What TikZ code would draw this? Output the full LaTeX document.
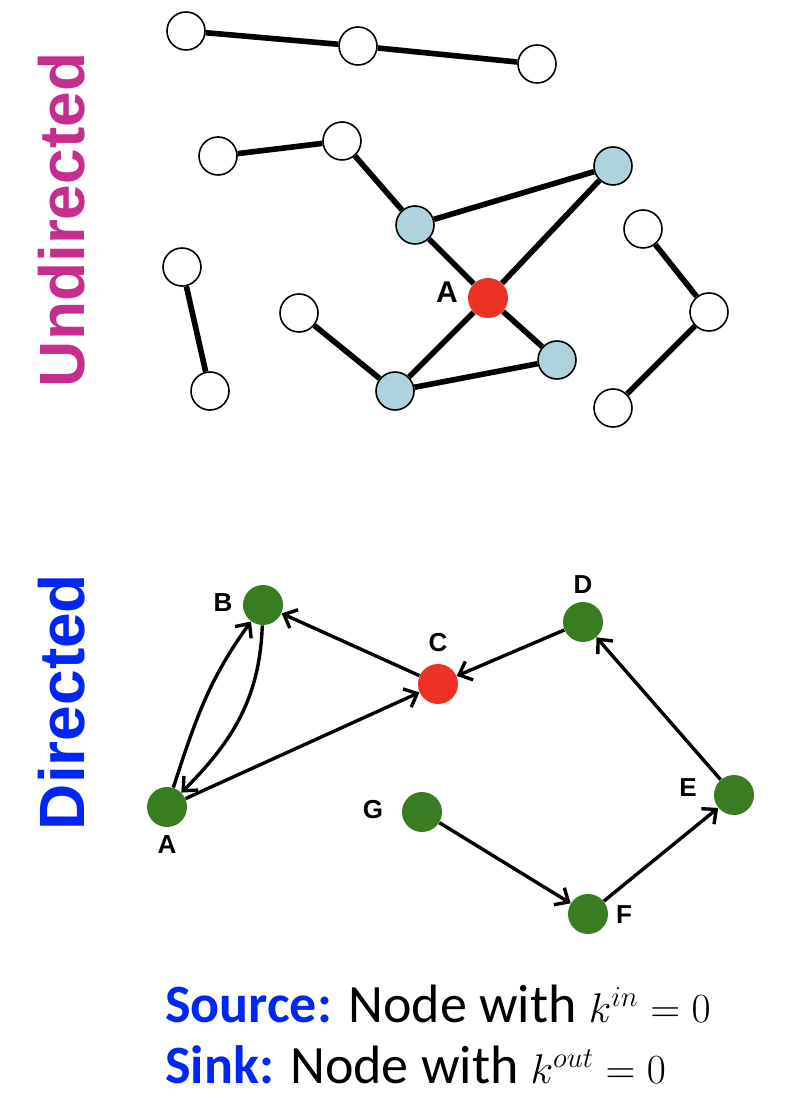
\documentclass[tikz,border=0pt]{standalone}
\usepackage{fontspec}
\newfontfamily\labfont{Liberation Sans}
\newfontfamily\notefont{Carlito}
\usetikzlibrary{arrows.meta}
\definecolor{nodeblue}{RGB}{173,211,222}
\definecolor{hubred}{RGB}{236,50,36}
\definecolor{dgreen}{RGB}{56,125,34}
\definecolor{titlemag}{RGB}{197,46,143}
\definecolor{titleblue}{RGB}{0,38,245}
\tikzset{
    %Define standard arrow tip
    >={Straight Barb[length=5.5pt,width=10pt]},
    % Style for undirected nodes
    plain/.style={
           circle,
           draw=black, line width=0.8pt,
           fill=white,
           minimum size=19pt,
           inner sep=0pt},
    nbr/.style={plain, fill=nodeblue},
    hub/.style={circle, fill=hubred, minimum size=20pt, inner sep=0pt},
    % Style for directed nodes
    dnode/.style={circle, fill=dgreen, minimum size=20pt, inner sep=0pt},
    dsink/.style={dnode, fill=hubred},
    % Define line styles
    ulink/.style={line width=2.8pt},
    arc/.style={->, line width=1.7pt},
    % Labels
    biglab/.style={font=\labfont\bfseries\fontsize{15}{15}\selectfont, inner sep=0pt},
    lab/.style={font=\labfont\bfseries\fontsize{13}{13}\selectfont, inner sep=0pt},
    title/.style={font=\labfont\bfseries\fontsize{32}{32}\selectfont, rotate=90, inner sep=0pt},
    note/.style={font=\notefont\fontsize{27}{29}\selectfont, anchor=base west, inner sep=0pt}
}
\begin{document}
\begin{tikzpicture}[x=0.5pt,y=-0.5pt]
\useasboundingbox (0,0) rectangle (790,1106);

% Titles
\node[title, text=titlemag] (tund) at (62,220) {Undirected};
\node[title, text=titleblue] (tdir) at (62,702) {Directed};

% Undirected network
\node[plain] (u1) at (186,31) {};
\node[plain] (u2) at (358,46) {};
\node[plain] (u3) at (537,64) {};
\node[plain] (u4) at (218,156) {};
\node[plain] (u5) at (342,141) {};
\node[nbr] (n1) at (415,225) {};
\node[nbr] (n2) at (613,166) {};
\node[hub] (ua) at (488,298) {};
\node[nbr] (n3) at (395,391) {};
\node[nbr] (n4) at (557,360) {};
\node[plain] (u6) at (643,229) {};
\node[plain] (u7) at (709,312) {};
\node[plain] (u8) at (613,408) {};
\node[plain] (u9) at (182,267) {};
\node[plain] (u10) at (210,391) {};
\node[plain] (u11) at (299,313) {};
\node[biglab] (lua) at (447,292) {A};

\path
% chains
(u1) edge[ulink] (u2)
(u2) edge[ulink] (u3)
(u4) edge[ulink] (u5)
(u5) edge[ulink] (n1)
(u9) edge[ulink] (u10)
(u6) edge[ulink] (u7)
(u7) edge[ulink] (u8)
(u11) edge[ulink] (n3)
% around A
(n1) edge[ulink] (n2)
(n1) edge[ulink] (ua)
(n2) edge[ulink] (ua)
(ua) edge[ulink] (n4)
(ua) edge[ulink] (n3)
(n3) edge[ulink] (n4);

% Directed network
\node[dnode] (dA) at (167,807) {};
\node[dnode] (dB) at (263,605) {};
\node[dsink] (dC) at (438,684) {};
\node[dnode] (dD) at (583,622) {};
\node[dnode] (dE) at (734,795) {};
\node[dnode] (dF) at (588,914) {};
\node[dnode] (dG) at (422,812) {};
\node[lab] (lA) at (167,845) {A};
\node[lab] (lB) at (223,603) {B};
\node[lab] (lC) at (438,643) {C};
\node[lab] (lD) at (583,585) {D};
\node[lab] (lE) at (688,788) {E};
\node[lab] (lF) at (624,915) {F};
\node[lab] (lG) at (373,810) {G};

\path
(dA) edge[arc, out=72, in=-126] (dB)
(dB) edge[arc, out=-92, in=45] (dA)
(dC) edge[arc] (dB)
(dA) edge[arc] (dC)
(dD) edge[arc] (dC)
(dE) edge[arc] (dD)
(dG) edge[arc] (dF)
(dF) edge[arc] (dE);

% Source and sink
\node[note] (src) at (165,1022) {\textcolor{titleblue}{\bfseries Source:} Node with {\fontsize{22.5}{24}\selectfont$k^{in}=0$}};
\node[note] (snk) at (165,1083) {\textcolor{titleblue}{\bfseries Sink:} Node with {\fontsize{22.5}{24}\selectfont$k^{out}=0$}};

\end{tikzpicture}
\end{document}
